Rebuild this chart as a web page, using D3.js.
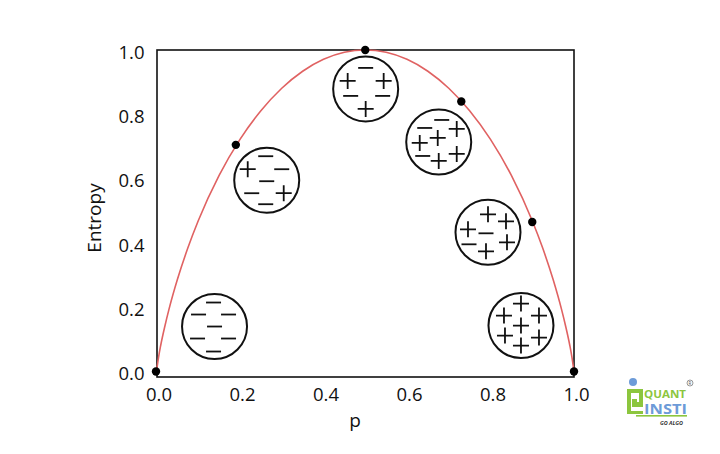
<!DOCTYPE html>
<html>
<head>
<meta charset="utf-8">
<script src="https://cdn.jsdelivr.net/npm/d3@7/dist/d3.min.js"></script>
<style>
html,body{margin:0;padding:0;background:#fff;}
svg{display:block;}
text{font-family:"Open Sans","Noto Sans",sans-serif;fill:#111;}
</style>
</head>
<body>
<svg id="chart" width="720" height="454"></svg>
<script>
// ---- data ----
const curveP = [0, 0.005, 0.01, 0.02, 0.03, 0.05, 0.075, 0.1, 0.15, 0.2, 0.25, 0.3, 0.35, 0.4, 0.45, 0.5,
                0.55, 0.6, 0.65, 0.7, 0.75, 0.8, 0.85, 0.9, 0.925, 0.95, 0.97, 0.98, 0.99, 0.995, 1];
const curveH = [0, 0.045, 0.081, 0.141, 0.194, 0.286, 0.384, 0.469, 0.610, 0.722, 0.811, 0.881, 0.934, 0.971, 0.993, 1.0,
                0.993, 0.971, 0.934, 0.881, 0.811, 0.722, 0.610, 0.469, 0.384, 0.286, 0.194, 0.141, 0.081, 0.045, 0];
const dotP = [0, 0.19, 0.5, 0.73, 0.9, 1.0];
const dotH = [0, 0.705, 1.0, 0.84, 0.465, 0];
const xTicks = [0, 0.2, 0.4, 0.6, 0.8, 1.0];
const yTicks = [0, 0.2, 0.4, 0.6, 0.8, 1.0];
const xTitle = "p";
const yTitle = "Entropy";
// sample circles: centre (p, entropy) and their contents
const sampleP = [0.139, 0.264, 0.501, 0.676, 0.794, 0.873];
const sampleH = [0.140, 0.595, 0.879, 0.714, 0.433, 0.143];
const sampleSigns = [
  ["-","-","-","-","-","-","-"],
  ["-","+","-","-","-","+","-"],
  ["-","+","+","-","-","+"],
  ["-","-","+","+","+","-","+","+"],
  ["+","+","+","-","-","+","+"],
  ["+","+","+","+","+","+","+"]
];
// layout of the signs inside each circle (pixel offsets from centre)
const signLayout = [
  [[-1,-24],[-16,-12],[14,-12],[0,0],[-17,12],[14,12],[-1,25]],
  [[-1,-24],[-19,-11],[15,-11],[0,1],[-15,13],[17,13],[-1,24]],
  [[0,-21],[-18,-8],[18,-8],[-15,7],[17,7],[0,20]],
  [[3,-22],[-14,-14],[18,-13],[-19,1],[-1,-4],[-16,14],[0,19],[18,12]],
  [[0,-18],[18,-11],[-20,-3],[-2,1],[-19,12],[-2,19],[19,10]],
  [[0,-22],[-17,-10],[18,-10],[0,0],[-16,10],[18,12],[0,20]]
];

// ---- drawing ----
const svg = d3.select("#chart");
const x = d3.scaleLinear().domain([0, 1]).range([156.5, 574]);
const y = d3.scaleLinear().domain([-0.017, 1]).range([377, 50]);

// frame
svg.append("rect")
  .attr("x", x(0) + 0.5).attr("y", y(1))
  .attr("width", x(1) - x(0) - 0.5).attr("height", y(-0.017) - y(1))
  .attr("fill", "none").attr("stroke", "#111").attr("stroke-width", 1.6);

// axes (labels only)
const xAxis = d3.axisBottom(x).tickValues(xTicks).tickFormat(d3.format(".1f")).tickSize(0).tickPadding(0);
const gx = svg.append("g").attr("transform", `translate(2,401)`).call(xAxis);
gx.select(".domain").remove();
gx.selectAll("text").attr("font-size", 18.5).attr("fill", "#111")
  .attr("font-family", "Open Sans").attr("y", 0).attr("dy", "0");

const yAxis = d3.axisLeft(y).tickValues(yTicks).tickFormat(d3.format(".1f")).tickSize(0).tickPadding(0);
const gy = svg.append("g").attr("transform", `translate(144.5,0)`).call(yAxis);
gy.select(".domain").remove();
gy.selectAll("text").attr("font-size", 18.5).attr("fill", "#111")
  .attr("font-family", "Open Sans").attr("dy", "0.45em");

svg.append("text").attr("x", 355).attr("y", 427).attr("text-anchor", "middle")
  .attr("font-size", 19).text(xTitle);
svg.append("text").attr("transform", "translate(100.5,218) rotate(-90)")
  .attr("text-anchor", "middle").attr("font-size", 19).text(yTitle);

// curve
const curveData = curveP.map((p, i) => ({p, h: curveH[i]}));
const line = d3.line().x(d => x(d.p)).y(d => y(d.h)).curve(d3.curveMonotoneX);
svg.append("path").datum(curveData).attr("d", line)
  .attr("fill", "none").attr("stroke", "#e06262").attr("stroke-width", 1.6);

// dots
svg.selectAll(".dot").data(dotP.map((p, i) => ({p, h: dotH[i]}))).enter()
  .append("circle").attr("class", "dot")
  .attr("cx", d => x(d.p) - (d.p === 0 ? 0.5 : 0)).attr("cy", d => y(d.h)).attr("r", 4.2)
  .attr("fill", "#000");

// sample circles
const samples = sampleP.map((p, i) => ({p, h: sampleH[i], signs: sampleSigns[i], layout: signLayout[i]}));
const sg = svg.selectAll(".sample").data(samples).enter().append("g")
  .attr("class", "sample")
  .attr("transform", d => `translate(${x(d.p)},${y(d.h)})`);
sg.append("circle").attr("r", 32.5).attr("fill", "#fff")
  .attr("stroke", "#111").attr("stroke-width", 2);
sg.each(function(d) {
  const g = d3.select(this);
  d.signs.forEach((s, k) => {
    const [dx, dy] = d.layout[k];
    const path = s === "+"
      ? `M${dx-8},${dy}H${dx+8}M${dx},${dy-8}V${dy+8}`
      : `M${dx-7.5},${dy}H${dx+7.5}`;
    g.append("path").attr("d", path).attr("stroke", "#111").attr("stroke-width", 1.8).attr("fill", "none");
  });
});

// logo
const logo = svg.append("g");
const green = "#8cc63e", blue = "#6d9bd8";
logo.append("circle").attr("cx", 633).attr("cy", 382).attr("r", 4).attr("fill", blue);
logo.append("path")
  .attr("d", "M627,389H643V407H632V399H637V402H639V393H631V411H643V414H627Z")
  .attr("fill", green);
logo.append("text").attr("x", 644).attr("y", 397.5)
  .attr("font-family", "Roboto, 'DejaVu Sans Condensed', sans-serif").attr("font-weight", 700)
  .attr("font-size", 11).attr("textLength", 42).attr("lengthAdjust", "spacingAndGlyphs")
  .style("fill", green).text("QUANT");
logo.append("text").attr("x", 644).attr("y", 414)
  .attr("font-family", "Roboto, 'DejaVu Sans Condensed', sans-serif").attr("font-weight", 700)
  .attr("font-size", 13.5).attr("textLength", 43).attr("lengthAdjust", "spacingAndGlyphs")
  .style("fill", blue).text("INSTI");
logo.append("rect").attr("x", 636).attr("y", 415).attr("width", 51).attr("height", 1.6).attr("fill", green);
logo.append("text").attr("x", 660).attr("y", 425).attr("font-size", 5.5).attr("font-style", "italic")
  .attr("font-weight", 700).attr("textLength", 23).attr("lengthAdjust", "spacingAndGlyphs")
  .style("fill", "#333").text("GO ALGO");
logo.append("circle").attr("cx", 690).attr("cy", 383).attr("r", 3).attr("fill", "none").attr("stroke", "#555").attr("stroke-width", 0.6);
logo.append("text").attr("x", 690).attr("y", 385).attr("text-anchor", "middle").attr("font-size", 4.5)
  .style("fill", "#555").text("R");
</script>
</body>
</html>
